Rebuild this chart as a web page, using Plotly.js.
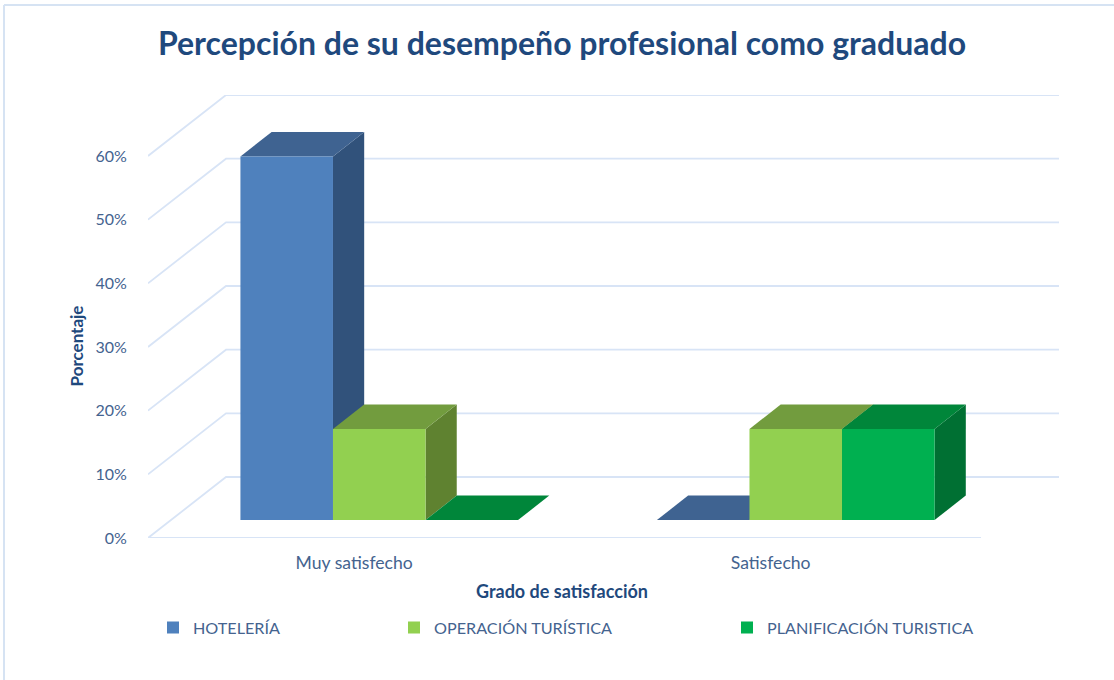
<!DOCTYPE html>
<html><head><meta charset="utf-8">
<script src="https://cdn.plot.ly/plotly-3.0.1.min.js"></script>
<style>html,body{margin:0;padding:0;background:#fff}</style></head>
<body><div id="chart" style="width:1114px;height:680px"></div>
<script>
const categories = ['Muy satisfecho', 'Satisfecho'];
const seriesNames = ['HOTELERÍA', 'OPERACIÓN TURÍSTICA', 'PLANIFICACIÓN TURISTICA'];
const hoteleria = [57.1, 0];
const operacion = [14.3, 14.3];
const planificacion = [0, 14.3];
const percentTicks = [0, 10, 20, 30, 40, 50, 60];
const percentLabels = ['0%', '10%', '20%', '30%', '40%', '50%', '60%'];
const frontColors = ['#4F81BD', '#92D050', '#00B050'];
const topColors = ['#3F6391', '#729C3E', '#00863A'];
const sideColors = ['#31527B', '#5F8230', '#007033'];

const W = 1114, H = 680;
const L = 148, R = 1059, T = 95, B = 538;
const catPx = 416.5, pctPx = 6.367;
const xRange = [-0.5, -0.5 + (R - L) / catPx];
const yRange = [0, (B - T) / pctPx];
const DX = 78 / catPx, DY = yRange[1] - 60;
const FRONT = 0.295, DEPTH = 0.4;
const barW = 1 / 4.5;
const GRID = '#D8E4F6', TEXT = '#44638F', DARK = '#1F497D', FONT = 'Lato, Carlito, sans-serif';
const px = v => (v - L) / (R - L);
const py = v => (B - v) / (B - T);

const allSeries = [hoteleria, operacion, planificacion];
const traces = [];

// floor and wall guide lines, all derived from the tick values
const gx = [], gy = [];
percentTicks.forEach(t => {
  gx.push(xRange[0], xRange[0] + DX, xRange[1], null);
  gy.push(t, t + DY, t + DY, null);
});
gx.push(xRange[0], 1.5, null); gy.push(0, 0, null);
traces.push({x: gx, y: gy, type: 'scatter', mode: 'lines', line: {color: GRID, width: 1.8},
  showlegend: false, hoverinfo: 'skip'});

// top and side faces of each box
const fdx = FRONT * DX, fdy = FRONT * DY, ddx = DEPTH * DX, ddy = DEPTH * DY;
allSeries.forEach((vals, s) => {
  vals.forEach((v, c) => {
    const x0 = c - 1.5 * barW + s * barW + fdx, x1 = x0 + barW;
    const yb = fdy, yt = fdy + v;
    traces.push({x: [x1, x1 + ddx, x1 + ddx, x1, x1], y: [yb, yb + ddy, yt + ddy, yt, yb],
      type: 'scatter', mode: 'lines', fill: 'toself', fillcolor: sideColors[s],
      line: {width: 0, color: sideColors[s]}, showlegend: false, hoverinfo: 'skip'});
    traces.push({x: [x0, x1, x1 + ddx, x0 + ddx, x0], y: [yt, yt, yt + ddy, yt + ddy, yt],
      type: 'scatter', mode: 'lines', fill: 'toself', fillcolor: topColors[s],
      line: {width: 0, color: topColors[s]}, showlegend: false, hoverinfo: 'skip'});
  });
});

// front faces: real bars on an overlaid subplot so they sit above the faces
allSeries.forEach((vals, s) => {
  traces.push({
    type: 'bar', name: seriesNames[s], x: [0, 1], y: vals,
    base: [fdy, fdy], width: barW, offset: -1.5 * barW + s * barW + fdx,
    xaxis: 'x2', yaxis: 'y2', marker: {color: frontColors[s], line: {width: 0}},
    legend: s === 0 ? 'legend' : 'legend' + (s + 1), hovertemplate: '%{y}%<extra>' + seriesNames[s] + '</extra>'
  });
});

// empty helper subplot: carries the axis titles, centred where the reference has them
traces.push({type: 'scatter', mode: 'none', x: [], y: [], xaxis: 'x3', yaxis: 'y3', showlegend: false, hoverinfo: 'skip'});

const legendFont = {family: FONT, size: 16.2, color: TEXT};
const mkLegend = left => ({x: px(left), xref: 'paper', y: py(628), yref: 'paper', xanchor: 'left', yanchor: 'middle',
  orientation: 'h', font: legendFont, bgcolor: 'rgba(0,0,0,0)', borderwidth: 0});

const layout = {
  width: W, height: H, autosize: false,
  margin: {l: L, r: W - R, t: T, b: H - B, pad: 0},
  paper_bgcolor: '#fff', plot_bgcolor: 'rgba(0,0,0,0)',
  barmode: 'overlay',
  font: {family: FONT},
  title: {text: 'Percepción de su desempeño profesional como graduado', x: 562 / W, xref: 'container', xanchor: 'center',
    y: 1 - 44 / H, yref: 'container', yanchor: 'middle', font: {family: FONT, size: 32, weight: 700, color: DARK}},
  xaxis: {range: xRange, fixedrange: true, showgrid: false, zeroline: false, showline: false,
    tickmode: 'array', tickvals: [-0.005, 0.995], ticktext: categories, ticks: 'outside', ticklen: 9, tickcolor: 'rgba(0,0,0,0)',
    tickfont: {family: FONT, size: 17.6, color: TEXT}},
  yaxis: {range: yRange, fixedrange: true, showgrid: false, zeroline: false, showline: false,
    tickmode: 'array', tickvals: percentTicks, ticktext: percentLabels, ticks: 'outside', ticklen: 17, tickcolor: 'rgba(0,0,0,0)',
    tickfont: {family: FONT, size: 16, color: TEXT}},
  xaxis2: {range: xRange, overlaying: 'x', visible: false, fixedrange: true},
  yaxis2: {range: yRange, overlaying: 'y', visible: false, fixedrange: true},
  xaxis3: {domain: [0, 2 * px(562)], anchor: 'y3', range: [0, 1], fixedrange: true, showgrid: false, zeroline: false, showline: false,
    showticklabels: false, ticks: '', automargin: false,
    title: {text: 'Grado de satisfacción', font: {family: FONT, size: 18, weight: 700, color: DARK}, standoff: 47}},
  yaxis3: {domain: [0, 2 * py(346)], anchor: 'x3', range: [0, 1], fixedrange: true, showgrid: false, zeroline: false, showline: false,
    showticklabels: false, ticks: '', automargin: false,
    title: {text: 'Porcentaje', font: {family: FONT, size: 17, weight: 700, color: DARK}, standoff: 59}},
  legend: mkLegend(153), legend2: mkLegend(394), legend3: mkLegend(727),
  shapes: [
    {type: 'line', xref: 'paper', yref: 'paper', x0: px(4), x1: px(1114), y0: py(5), y1: py(5), line: {color: '#D6E3F3', width: 2}},
    {type: 'line', xref: 'paper', yref: 'paper', x0: px(4), x1: px(4), y0: py(5), y1: py(680), line: {color: '#D6E3F3', width: 2}}
  ]
};
Plotly.newPlot('chart', traces, layout, {displayModeBar: false});
</script></body></html>
